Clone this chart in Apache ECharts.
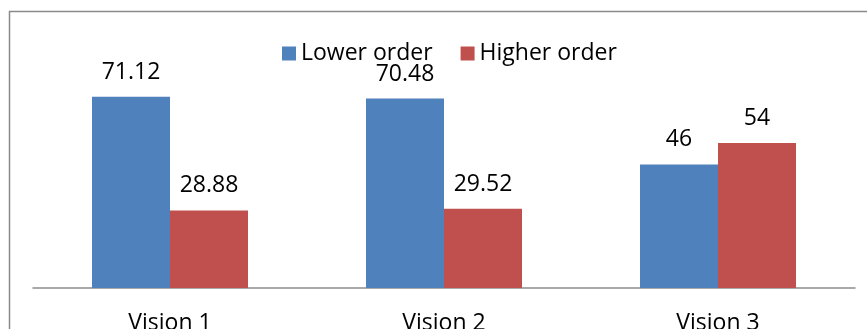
<!DOCTYPE html>
<html>
<head>
<meta charset="utf-8">
<script src="https://cdn.jsdelivr.net/npm/echarts@6/dist/echarts.min.js"></script>
<style>
  html, body { margin: 0; padding: 0; background: #fff; }
  #chart { width: 867px; height: 329px; }
</style>
</head>
<body>
<div id="chart"></div>
<script>
const categories = ['Vision 1', 'Vision 2', 'Vision 3']
const lowerOrder = [71.12, 70.48, 46]
const higherOrder = [28.88, 29.52, 54]

const font = '"Open Sans", "Liberation Sans", sans-serif'
const chart = echarts.init(document.getElementById('chart'))

const option = {
  animation: false,
  graphic: [
    {
      type: 'rect',
      left: 7,
      top: 9,
      shape: { width: 900, height: 400 },
      style: { fill: 'none', stroke: '#8a8a8a', lineWidth: 1.5 },
      silent: true
    }
  ],
  legend: {
    top: 37,
    left: 277,
    itemWidth: 14,
    itemHeight: 14,
    itemGap: 28,
    icon: 'rect',
    textStyle: { fontFamily: font, fontSize: 23, color: '#000' },
    data: ['Lower order', 'Higher order']
  },
  grid: {
    left: 33,
    right: 12,
    top: 73,
    bottom: 41,
    containLabel: false,
    outerBoundsMode: 'none'
  },
  xAxis: {
    type: 'category',
    data: categories,
    axisTick: { show: false },
    axisLine: { lineStyle: { color: '#8c8c8c', width: 1.5 } },
    axisLabel: { fontFamily: font, fontSize: 23, color: '#000', margin: 24 }
  },
  yAxis: {
    type: 'value',
    min: 0,
    max: 80,
    show: false,
    splitLine: { show: false }
  },
  series: [
    {
      name: 'Lower order',
      type: 'bar',
      data: lowerOrder,
      barWidth: 78,
      barGap: '0%',
      itemStyle: { color: '#4F81BD' },
      label: { show: true, position: 'top', distance: 13, fontFamily: font, fontSize: 23, color: '#000' }
    },
    {
      name: 'Higher order',
      type: 'bar',
      data: higherOrder,
      barWidth: 78,
      itemStyle: { color: '#C0504D' },
      label: { show: true, position: 'top', distance: 13, fontFamily: font, fontSize: 23, color: '#000' }
    }
  ]
}

chart.setOption(option)
</script>
</body>
</html>
